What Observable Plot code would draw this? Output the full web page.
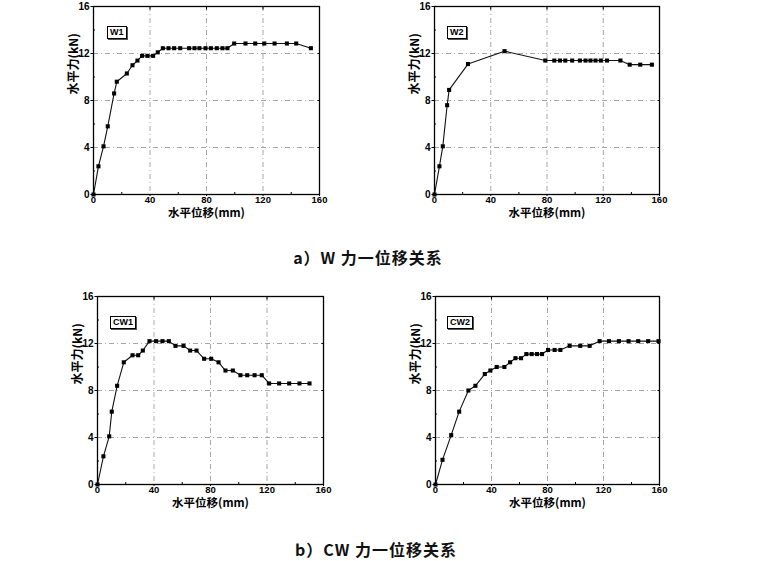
<!DOCTYPE html>
<html><head><meta charset="utf-8">
<script src="https://cdn.jsdelivr.net/npm/d3@7"></script>
<script src="https://cdn.jsdelivr.net/npm/@observablehq/plot@0.6"></script>
<style>
body{margin:0;background:#fff;width:760px;height:561px;position:relative;overflow:hidden;font-family:"Liberation Sans",Arial,sans-serif}
.panel{position:absolute}
.tag{position:absolute;border:1.2px solid #000;box-shadow:1px 1px 0 #555;font:bold 9px "Liberation Sans",Arial,sans-serif;line-height:9px;padding:1px 2px;background:#fff;color:#000}
.cap{position:absolute;font-family:"Noto Sans CJK SC",sans-serif;font-weight:700;font-size:16px;letter-spacing:1px;white-space:nowrap;color:#111;transform:translate(-50%,-50%)}
</style></head>
<body>
<script>
// ---- data (x: 水平位移 mm, y: 水平力 kN) ----
const w1X = [0,3.5,7.1,10.1,14.6,16.5,23.6,27.6,31.1,34.4,38.2,42.2,45.5,49.1,53.1,57.1,61.4,67.7,71.5,75.0,79.3,83.1,87.3,91.3,94.8,99.6,107.6,114.5,120.9,128.2,136.9,143.5,153.9];
const w1Y = [0,2.4,4.1,5.8,8.6,9.6,10.3,11.0,11.4,11.8,11.8,11.8,12.1,12.45,12.45,12.45,12.45,12.45,12.45,12.45,12.45,12.45,12.45,12.45,12.45,12.85,12.85,12.85,12.85,12.85,12.85,12.85,12.45];
const w2X = [0,3.5,5.9,9.0,10.4,23.8,49.8,78.8,85.2,89.2,93.0,97.9,103.4,107.4,110.9,114.5,118.3,122.7,132.2,138.8,146.3,154.6];
const w2Y = [0,2.4,4.1,7.6,8.9,11.1,12.2,11.4,11.4,11.4,11.4,11.4,11.4,11.4,11.4,11.4,11.4,11.4,11.4,11.05,11.05,11.05];
const cw1X = [0,4.2,8.3,10.1,13.9,18.6,24.8,28.8,32.1,36.8,41.5,46.0,50.5,55.2,60.9,65.6,70.1,75.5,80.5,85.7,90.6,95.8,101.2,106.0,111.2,116.3,121.5,128.6,135.7,143.0,150.1];
const cw1Y = [0,2.4,4.1,6.2,8.4,10.4,11.0,11.0,11.4,12.2,12.2,12.2,12.2,11.8,11.8,11.4,11.4,10.7,10.7,10.4,9.7,9.7,9.3,9.3,9.3,9.3,8.6,8.6,8.6,8.6,8.6];
const cw2X = [0,5.0,11.2,16.9,23.5,28.5,35.2,39.2,43.7,49.2,53.3,57.1,61.1,64.9,68.7,72.5,76.1,80.4,85.1,89.2,95.8,103.4,110.1,117.2,123.9,131.0,137.9,144.8,151.9,159.3];
const cw2Y = [0,2.1,4.2,6.2,8.0,8.4,9.4,9.7,10.0,10.0,10.4,10.75,10.75,11.1,11.1,11.1,11.1,11.45,11.45,11.45,11.8,11.8,11.8,12.2,12.2,12.2,12.2,12.2,12.2,12.2];

const panelNames = ["W1","W2","CW1","CW2"];
const xTicks = [0,40,80,120,160];
const yTicks = [0,4,8,12,16];
const xMinor = [20,60,100,140];
const yMinor = [2,6,10,14];
const gridX = [40,80,120];
const gridY = [4,8,12];
const xTitle = "水平位移(mm)";
const yTitle = "水平力(kN)";
const captions = ["a）W 力一位移关系", "b）CW 力一位移关系"];

// layout (frame boxes in page pixels)
const frames = [
  {L:93, R:319, T:6, B:194, tag:{x:107,y:26}},
  {L:434,R:659, T:6, B:194, tag:{x:447,y:26}},
  {L:97, R:323, T:296,B:484, tag:{x:110,y:316}},
  {L:435,R:659, T:296,B:484, tag:{x:447,y:316}}
];
const series = [[w1X,w1Y],[w2X,w2Y],[cw1X,cw1Y],[cw2X,cw2Y]];

const mL = 45, mT = 8, mR = 14, mB = 30;

series.forEach(([xs, ys], i) => {
  const f = frames[i];
  const data = xs.map((x, k) => ({x, y: ys[k]}));
  const chart = Plot.plot({
    width: mL + (f.R - f.L) + mR,
    height: mT + (f.B - f.T) + mB,
    marginLeft: mL, marginTop: mT, marginRight: mR, marginBottom: mB,
    x: {domain: [0,160]},
    y: {domain: [0,16]},
    style: {fontFamily: '"Liberation Sans", Arial, sans-serif', fontSize: "10px", fontWeight: "bold", color: "#000", background: "transparent"},
    marks: [
      Plot.gridX(gridX, {stroke: "#444", strokeOpacity: 0.6, strokeWidth: 0.8, strokeDasharray: "5,3,1,3"}),
      Plot.gridY(gridY, {stroke: "#444", strokeOpacity: 0.6, strokeWidth: 0.8, strokeDasharray: "5,3,1,3"}),
      Plot.axisX(xTicks, {tickSize: 2, tickPadding: 0, label: null, fontWeight: "bold", fontSize: 9.5}),
      Plot.axisY(yTicks, {tickSize: 2.5, tickPadding: 1.5, label: null, fontWeight: "bold"}),
      Plot.axisX(xMinor, {tickSize: -2, text: null, label: null}),
      Plot.axisY(yMinor, {tickSize: -2, text: null, label: null}),
      Plot.axisX(xTicks, {anchor: "top", tickSize: -2.5, text: null, label: null}),
      Plot.axisY(yTicks, {anchor: "right", tickSize: -2.5, text: null, label: null}),
      Plot.frame({stroke: "#000", strokeWidth: 1.3}),
      Plot.line(data, {x: "x", y: "y", stroke: "#111", strokeWidth: 1.1}),
      Plot.dot(data, {x: "x", y: "y", symbol: "square", r: 2.3, fill: "#000", stroke: null}),
      Plot.text([xTitle], {frameAnchor: "bottom", lineAnchor: "top", dy: 14, fontFamily: '"Noto Sans CJK SC", sans-serif', fontWeight: "bold", fontSize: 11.5}),
      Plot.text([yTitle], {frameAnchor: "left", lineAnchor: "middle", rotate: -90, dx: -19, dy: -6, fontFamily: '"Noto Sans CJK SC", sans-serif', fontWeight: "bold", fontSize: 12})
    ]
  });
  const div = document.createElement("div");
  div.className = "panel";
  div.style.left = (f.L - mL) + "px";
  div.style.top = (f.T - mT) + "px";
  div.appendChild(chart);
  document.body.appendChild(div);

  const tag = document.createElement("div");
  tag.className = "tag";
  tag.textContent = panelNames[i];
  tag.style.left = f.tag.x + "px";
  tag.style.top = f.tag.y + "px";
  document.body.appendChild(tag);
});

const capPos = [{x:368, y:257}, {x:376, y:549}];
captions.forEach((c, i) => {
  const d = document.createElement("div");
  d.className = "cap";
  d.textContent = c;
  d.style.left = capPos[i].x + "px";
  d.style.top = capPos[i].y + "px";
  document.body.appendChild(d);
});
</script>
</body></html>
